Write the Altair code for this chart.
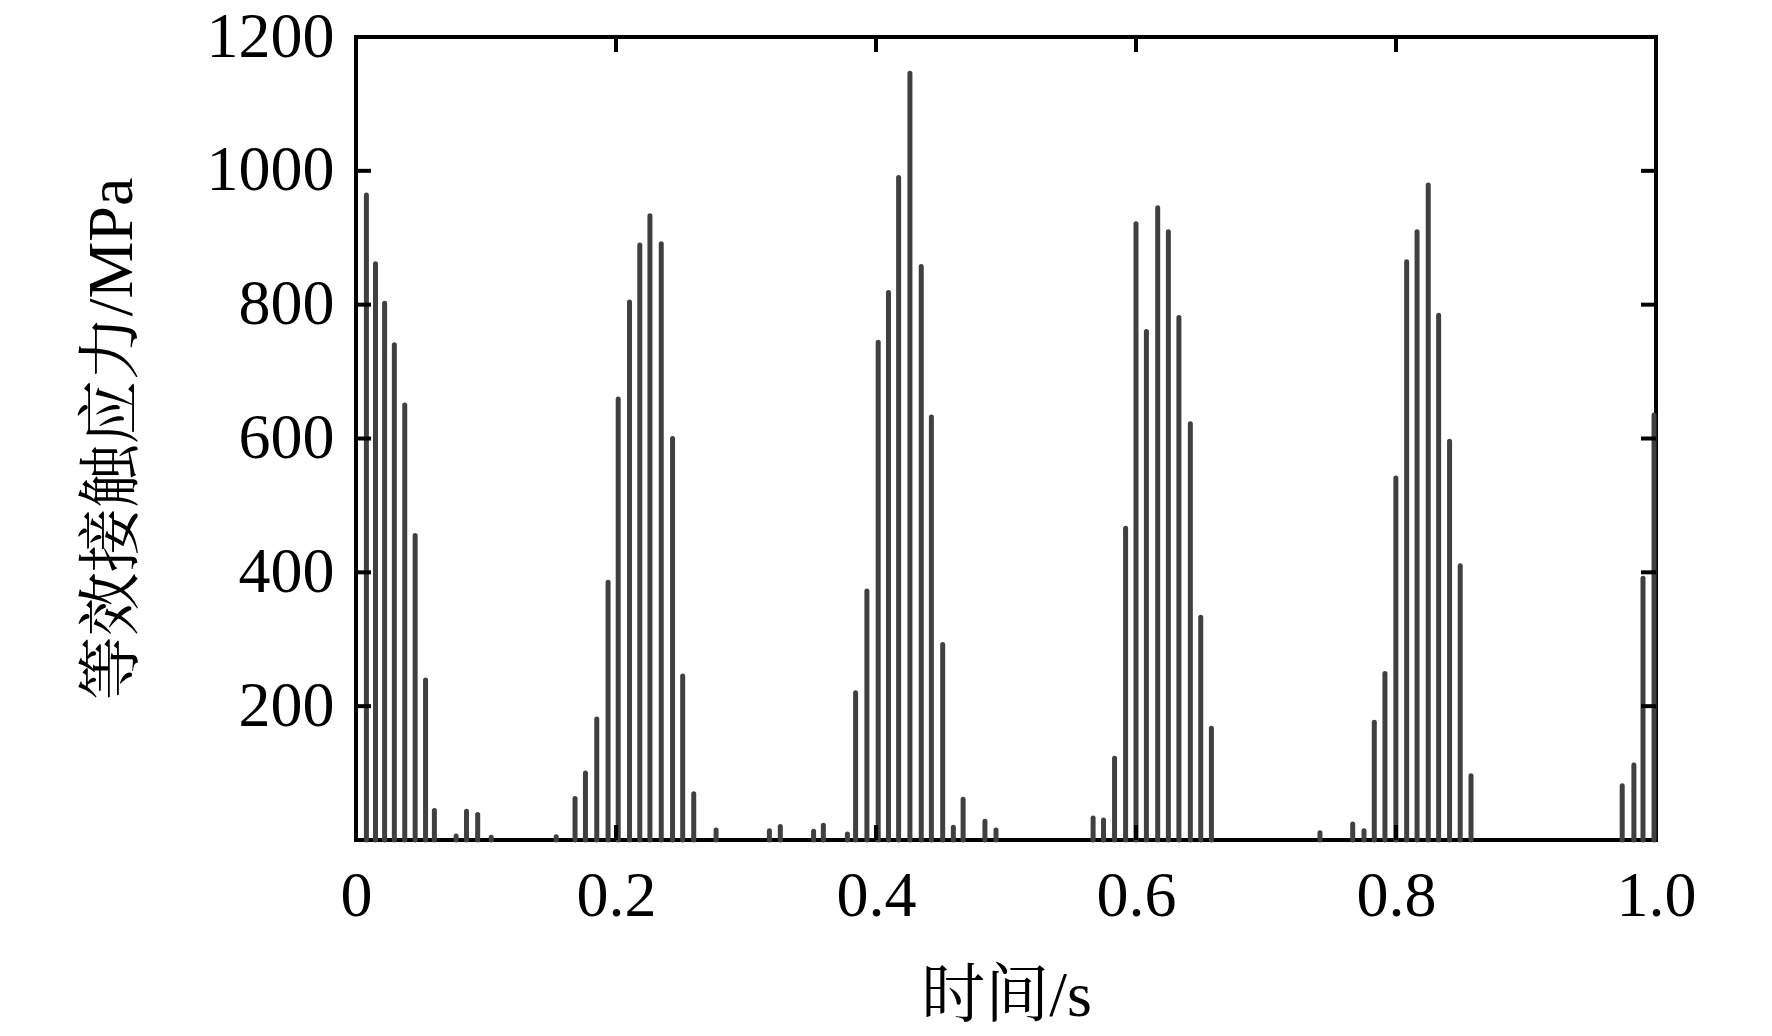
import altair as alt
import pandas as pd

# Spike peak times (s) and peak equivalent contact stress (MPa)
times = [
    0.008, 0.015, 0.022, 0.0295, 0.0375, 0.0455, 0.0535, 0.0603,
    0.077, 0.085, 0.0936, 0.104, 0.154,
    0.1685, 0.1765, 0.1852, 0.1939, 0.2017, 0.2104, 0.2183, 0.2261, 0.2348, 0.2435, 0.2513, 0.2598,
    0.277, 0.318, 0.3264, 0.352, 0.3595, 0.378,
    0.3843, 0.393, 0.4017, 0.4096, 0.4174, 0.4261, 0.4348, 0.4426, 0.4513, 0.4595, 0.467,
    0.4838, 0.4923,
    0.567, 0.575,
    0.5835, 0.592, 0.600, 0.608, 0.6167, 0.6249, 0.633, 0.6418, 0.6498, 0.658,
    0.7415, 0.7667, 0.7754,
    0.7833, 0.7915, 0.7999, 0.8082, 0.8162, 0.8248, 0.8328, 0.8412, 0.8494, 0.8577,
    0.974, 0.983, 0.990, 0.9985,
]
stress = [
    964, 861, 802, 740, 650, 455, 239, 44,
    6, 43, 38, 4, 5,
    62, 100, 181, 385, 659, 804, 889, 933, 891, 600, 245, 69,
    15, 14, 20, 13, 22, 9,
    220, 372, 744, 818, 990, 1146, 857, 632, 292, 19, 61,
    28, 15,
    33, 30,
    122, 466, 921, 760, 945, 909, 781, 622, 333, 167,
    11, 24, 14,
    176, 249, 541, 864, 909, 979, 784, 596, 410, 96,
    81, 112, 391, 635,
]

x_ticks = [0, 0.2, 0.4, 0.6, 0.8, 1.0]
x_inner_ticks = [0.2, 0.4, 0.6, 0.8]
y_ticks = [200, 400, 600, 800, 1000, 1200]
y_inner_ticks = [200, 400, 600, 800, 1000]

x_title = "时间/s"
y_title = "等效接触应力/MPa"

df = pd.DataFrame({"t": times, "s": stress})
xt_df = pd.DataFrame({"t": x_inner_ticks})
yt_df = pd.DataFrame({"s": y_inner_ticks})

W, H = 1300, 803
TICK = 15
FONT = "Liberation Serif, Noto Serif CJK SC, Noto Sans CJK SC"
FS = 64

xs = alt.Scale(domain=[0, 1], nice=False, zero=False)
ys = alt.Scale(domain=[0, 1200], nice=False)

spikes = alt.Chart(df).mark_rule(
    color="#404040", strokeWidth=5, strokeCap="round"
).encode(
    x=alt.X(
        "t:Q", scale=xs,
        axis=alt.Axis(
            orient="bottom", values=x_ticks,
            labelExpr="datum.value == 0 ? '0' : format(datum.value, '.1f')",
            title=x_title, ticks=False, domain=False, grid=False,
            labelFont=FONT, titleFont=FONT, labelFontSize=FS, titleFontSize=FS,
            labelColor="black", titleColor="black", titleFontWeight="normal",
            labelPadding=24, titlePadding=36, labelFlush=False, labelOverlap=False,
        ),
    ),
    y=alt.Y(
        "s:Q", scale=ys,
        axis=alt.Axis(
            orient="left", values=y_ticks, format="d",
            title=y_title, ticks=False, domain=False, grid=False,
            labelFont=FONT, titleFont=FONT, labelFontSize=FS, titleFontSize=FS,
            labelColor="black", titleColor="black", titleFontWeight="normal",
            labelPadding=22, titlePadding=62, labelFlush=False, labelOverlap=False,
        ),
    ),
    y2=alt.datum(0),
)

tick_style = dict(color="black", strokeWidth=4)

# inward ticks on the four sides of the frame, placed by the shared scales
ticks_bottom = alt.Chart(xt_df).mark_rule(**tick_style).encode(
    x=alt.X("t:Q", scale=xs, axis=None),
    y=alt.value(H), y2=alt.value(H - TICK),
)
ticks_top = alt.Chart(xt_df).mark_rule(**tick_style).encode(
    x=alt.X("t:Q", scale=xs, axis=None),
    y=alt.value(0), y2=alt.value(TICK),
)
ticks_left = alt.Chart(yt_df).mark_rule(**tick_style).encode(
    y=alt.Y("s:Q", scale=ys, axis=None),
    x=alt.value(0), x2=alt.value(TICK),
)
ticks_right = alt.Chart(yt_df).mark_rule(**tick_style).encode(
    y=alt.Y("s:Q", scale=ys, axis=None),
    x=alt.value(W - TICK), x2=alt.value(W),
)

chart = alt.layer(
    spikes, ticks_bottom, ticks_top, ticks_left, ticks_right
).resolve_axis(
    x="independent", y="independent"
).properties(
    width=W, height=H,
    background="white",
    autosize=alt.AutoSizeParams(type="none"),
    padding={"left": 348, "top": 29, "right": 108, "bottom": 188},
).configure_view(
    stroke="black", strokeWidth=4
)

chart.save("out.html", embed_options={"renderer": "svg", "actions": False})
